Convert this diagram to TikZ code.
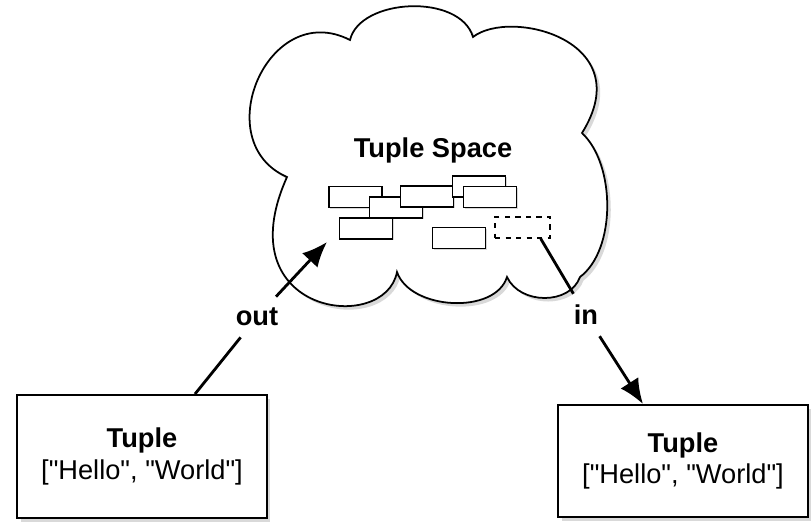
\documentclass[tikz,border=0pt]{standalone}
\usepackage{fontspec}
\newfontfamily\diagfont{Liberation Sans}
\usetikzlibrary{arrows.meta,positioning,calc,shadows}

\begin{document}
\begin{tikzpicture}[x=0.02cm, y=-0.02cm,
  tuplebox/.style={draw, line width=1.1pt, fill=white, align=center, minimum width=5cm,
    font=\diagfont\fontsize{15.5}{18}\selectfont,
    drop shadow={shadow xshift=2pt, shadow yshift=-2pt, opacity=0.3}},
  item/.style={draw, line width=0.9pt, fill=white, minimum width=1.06cm, minimum height=0.42cm, inner sep=0pt,
    drop shadow={shadow xshift=0.8pt, shadow yshift=-0.8pt, opacity=0.3}},
  lbl/.style={font=\diagfont\fontsize{15.5}{18}\selectfont\bfseries, inner sep=0.22cm},
  arr/.style={-{Latex[length=0.5cm,width=0.42cm]}, line width=1.6pt},
  stub/.style={line width=1.6pt}
]
\useasboundingbox (0,0) rectangle (812,524);

% the space
\draw[line width=1pt, fill=white, drop shadow={shadow xshift=2pt, shadow yshift=-2pt, opacity=0.3}]
  (287,177) .. controls (207,142) and (268,-2) .. (350,40)
  .. controls (360,-2) and (460,-7) .. (473,37)
  .. controls (510,8) and (640,40) .. (582,133)
  .. controls (616,165) and (616,250) .. (580,277)
  .. controls (570,305) and (520,305) .. (507,277)
  .. controls (495,315) and (410,310) .. (397,272)
  .. controls (385,335) and (225,315) .. (287,177) -- cycle;
\node[lbl, inner sep=0pt] (space) at (433,150) {Tuple Space};

% tuples held in the space
\node[item] (t1) at (355.5,197) {};
\node[item] (t2) at (396,207.5) {};
\node[item] (t3) at (366,228.5) {};
\node[item] (t4) at (427,196.5) {};
\node[item] (t5) at (479,186.5) {};
\node[item] (t6) at (490,197) {};
\node[item] (t7) at (459,238) {};
\node[draw, dashed, line width=0.9pt, minimum width=1.1cm, minimum height=0.42cm, inner sep=0pt] (taken) at (522.5,227.5) {};

% tuples outside
\node[tuplebox, minimum height=2.46cm] (outtuple) at (142,456.5) {\textbf{Tuple}\\{}["Hello", "World"]};
\node[tuplebox, minimum height=2.24cm] (intuple) at (683,461) {\textbf{Tuple}\\{}["Hello", "World"]};

% out
\coordinate (drop) at (327,242);
\node[lbl] (outlbl) at (257,317) {out};
\draw[stub] ([xshift=1.06cm]outtuple.north) -- (outlbl);
\draw[arr] (outlbl) -- (drop);

% in
\node[lbl] (inlbl) at (586,315) {in};
\draw[stub] ([xshift=-0.2cm]taken.south east) -- (inlbl);
\draw[arr] (inlbl) -- ([xshift=-0.8cm]intuple.north);

\end{tikzpicture}
\end{document}
